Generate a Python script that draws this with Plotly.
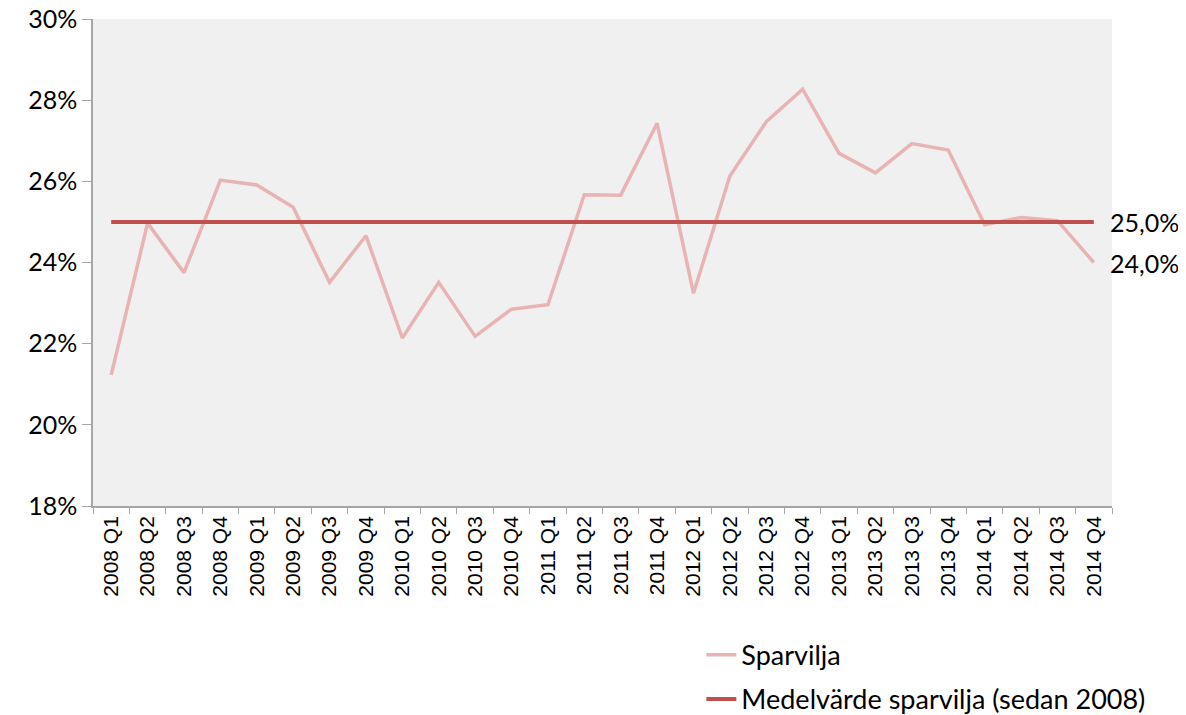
import plotly.graph_objects as go

quarters = [f"{y} Q{q}" for y in range(2008, 2015) for q in range(1, 5)]
sparvilja = [21.23, 24.97, 23.75, 26.03, 25.91, 25.36, 23.51, 24.66,
             22.14, 23.51, 22.18, 22.85, 22.96, 25.67, 25.66, 27.43,
             23.24, 26.13, 27.47, 28.27, 26.69, 26.21, 26.93, 26.77,
             24.93, 25.11, 25.03, 24.00]
medel = [25.0] * len(quarters)
right_labels = ["25,0%", "24,0%"]
right_values = [medel[-1], sparvilja[-1]]

fig = go.Figure()
fig.add_trace(go.Scatter(x=quarters, y=sparvilja, mode="lines", name="Sparvilja",
                         line=dict(color="#E8B4B3", width=3.5), legendgroup="a"))
fig.add_trace(go.Scatter(x=quarters, y=medel, mode="lines",
                         name="Medelvärde sparvilja (sedan 2008)",
                         line=dict(color="#C0504D", width=4), legendgroup="b"))

for txt, v in zip(right_labels, right_values):
    fig.add_annotation(x=quarters[-1], y=v, text=txt, showarrow=False,
                       xanchor="left", yanchor="middle", xshift=14,
                       font=dict(family="Lato, sans-serif", size=25, color="#000000"))

fig.update_layout(
    width=1186, height=715,
    margin=dict(l=85, r=82, t=11, b=217),
    paper_bgcolor="white", plot_bgcolor="#F0F0F0",
    showlegend=True,
    legend=dict(x=0.597, y=0.129, xanchor="left", yanchor="top", yref="container",
                font=dict(family="Lato, sans-serif", size=27, color="#000000"),
                tracegroupgap=6, bgcolor="rgba(0,0,0,0)", itemwidth=30),
)
fig.update_xaxes(type="category", showgrid=False, showline=True, linecolor="#A6A6A6",
                 linewidth=1.5, ticks="outside", ticklen=6, tickcolor="#A6A6A6",
                 tickson="boundaries", tickangle=-90, ticklabeloverflow="allow",
                 tickfont=dict(family="Liberation Sans Narrow, Liberation Sans, Arial", size=21, color="#000000"),
                 range=[-0.5, 27.5], automargin=False)
fig.update_yaxes(range=[18, 30], dtick=2, ticksuffix="%", showgrid=False, zeroline=False,
                 showline=True, linecolor="#A6A6A6", linewidth=1.5, ticks="outside",
                 ticklen=9, tickcolor="#A6A6A6", automargin=False, ticklabeloverflow="allow",
                 tickfont=dict(family="Lato, sans-serif", size=25, color="#000000"))

fig.write_html("out.html")
